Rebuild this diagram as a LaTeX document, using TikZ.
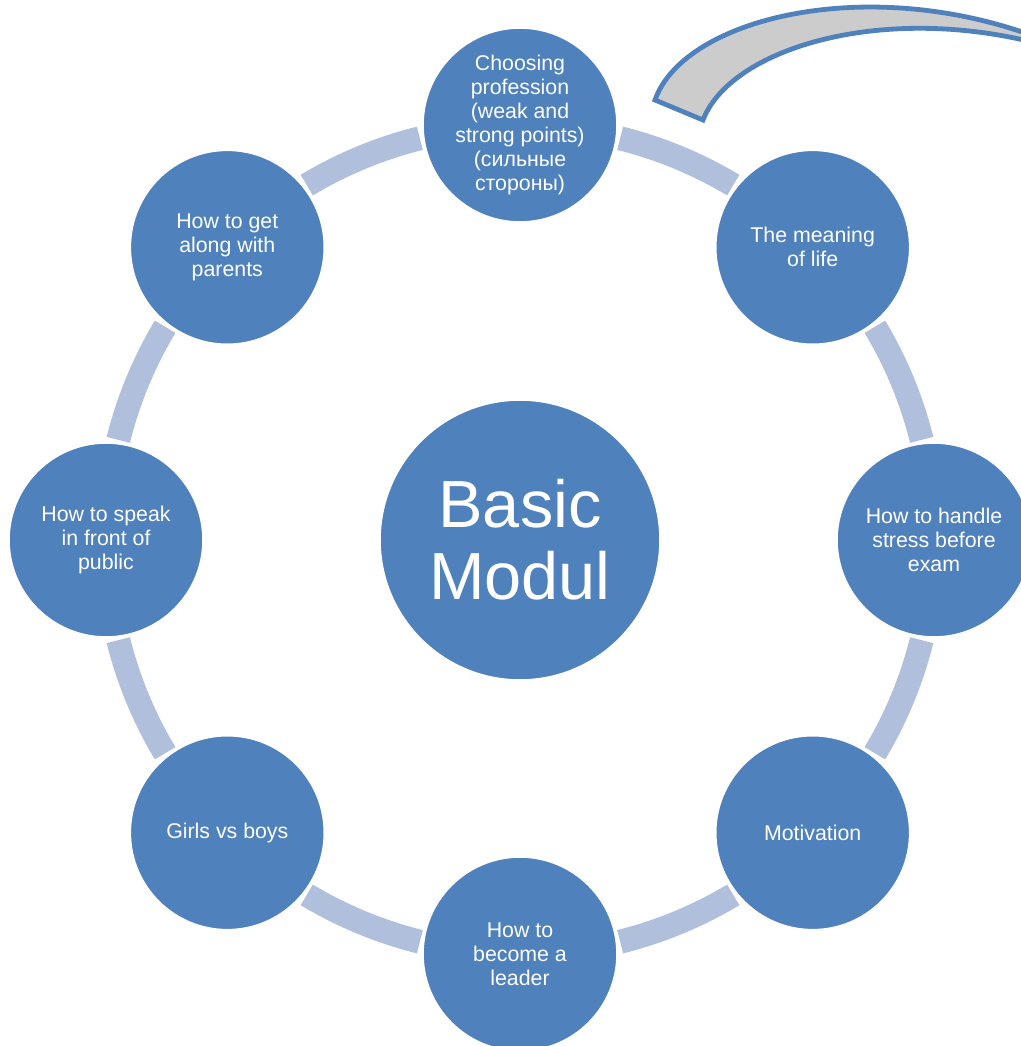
\documentclass[tikz,border=0pt]{standalone}
\usepackage{fontspec}
\setmainfont{Liberation Sans}
\usepackage{tikz}

\definecolor{modblue}{RGB}{79,129,189}
\definecolor{ringblue}{RGB}{176,192,220}
\definecolor{bandgray}{RGB}{204,204,204}

\begin{document}
\begin{tikzpicture}[x=0.75pt,y=0.75pt]
\tikzstyle{every node}+=[inner sep=0pt]
\tikzstyle{topic}=[circle, fill=modblue, draw=white, line width=1.2pt, minimum size=145.5pt, text=white, align=center, font=\fontsize{16}{18}\selectfont]
\tikzstyle{ring}=[ringblue, line width=18pt]
\useasboundingbox (0,0) rectangle (1021,-1046);
% curved band in the corner
\draw [modblue, fill=bandgray, line width=3.6pt, line join=miter] (655,-100) .. controls (683,-20) and (860,25) .. (1028,-34) -- (1028,-41) .. controls (875,-5) and (730,-50) .. (703,-120) -- cycle;
% ring between the topics
\node [circle, fill=modblue, draw=white, line width=1.2pt, minimum size=210pt, text=white, align=center, font=\fontsize{50}{54}\selectfont] (basic) at (520,-540) {Basic\\Modul};
\draw [ring] (basic) ++(14:414) arc [start angle=14, end angle=31, radius=414];
\draw [ring] (basic) ++(59:414) arc [start angle=59, end angle=76, radius=414];
\draw [ring] (basic) ++(104:414) arc [start angle=104, end angle=121, radius=414];
\draw [ring] (basic) ++(149:414) arc [start angle=149, end angle=166, radius=414];
\draw [ring] (basic) ++(194:414) arc [start angle=194, end angle=211, radius=414];
\draw [ring] (basic) ++(239:414) arc [start angle=239, end angle=256, radius=414];
\draw [ring] (basic) ++(284:414) arc [start angle=284, end angle=301, radius=414];
\draw [ring] (basic) ++(329:414) arc [start angle=329, end angle=346, radius=414];
% topics
\node [topic] (profession) at (520,-125) {Choosing\\profession\\(weak and\\strong points)\\(сильные\\стороны)};
\node [topic] (meaning) at (812.7,-247.3) {The meaning\\of life};
\node [topic] (stress) at (934,-540) {How to handle\\stress before\\exam};
\node [topic] (motivation) at (812.7,-832.7) {Motivation};
\node [topic] (leader) at (520,-954) {How to\\become a\\leader};
\node [topic] (girls) at (227.3,-832.7) {Girls vs boys};
\node [topic] (speak) at (106,-540) {How to speak\\in front of\\public};
\node [topic] (parents) at (227.3,-247.3) {How to get\\along with\\parents};
\end{tikzpicture}
\end{document}
